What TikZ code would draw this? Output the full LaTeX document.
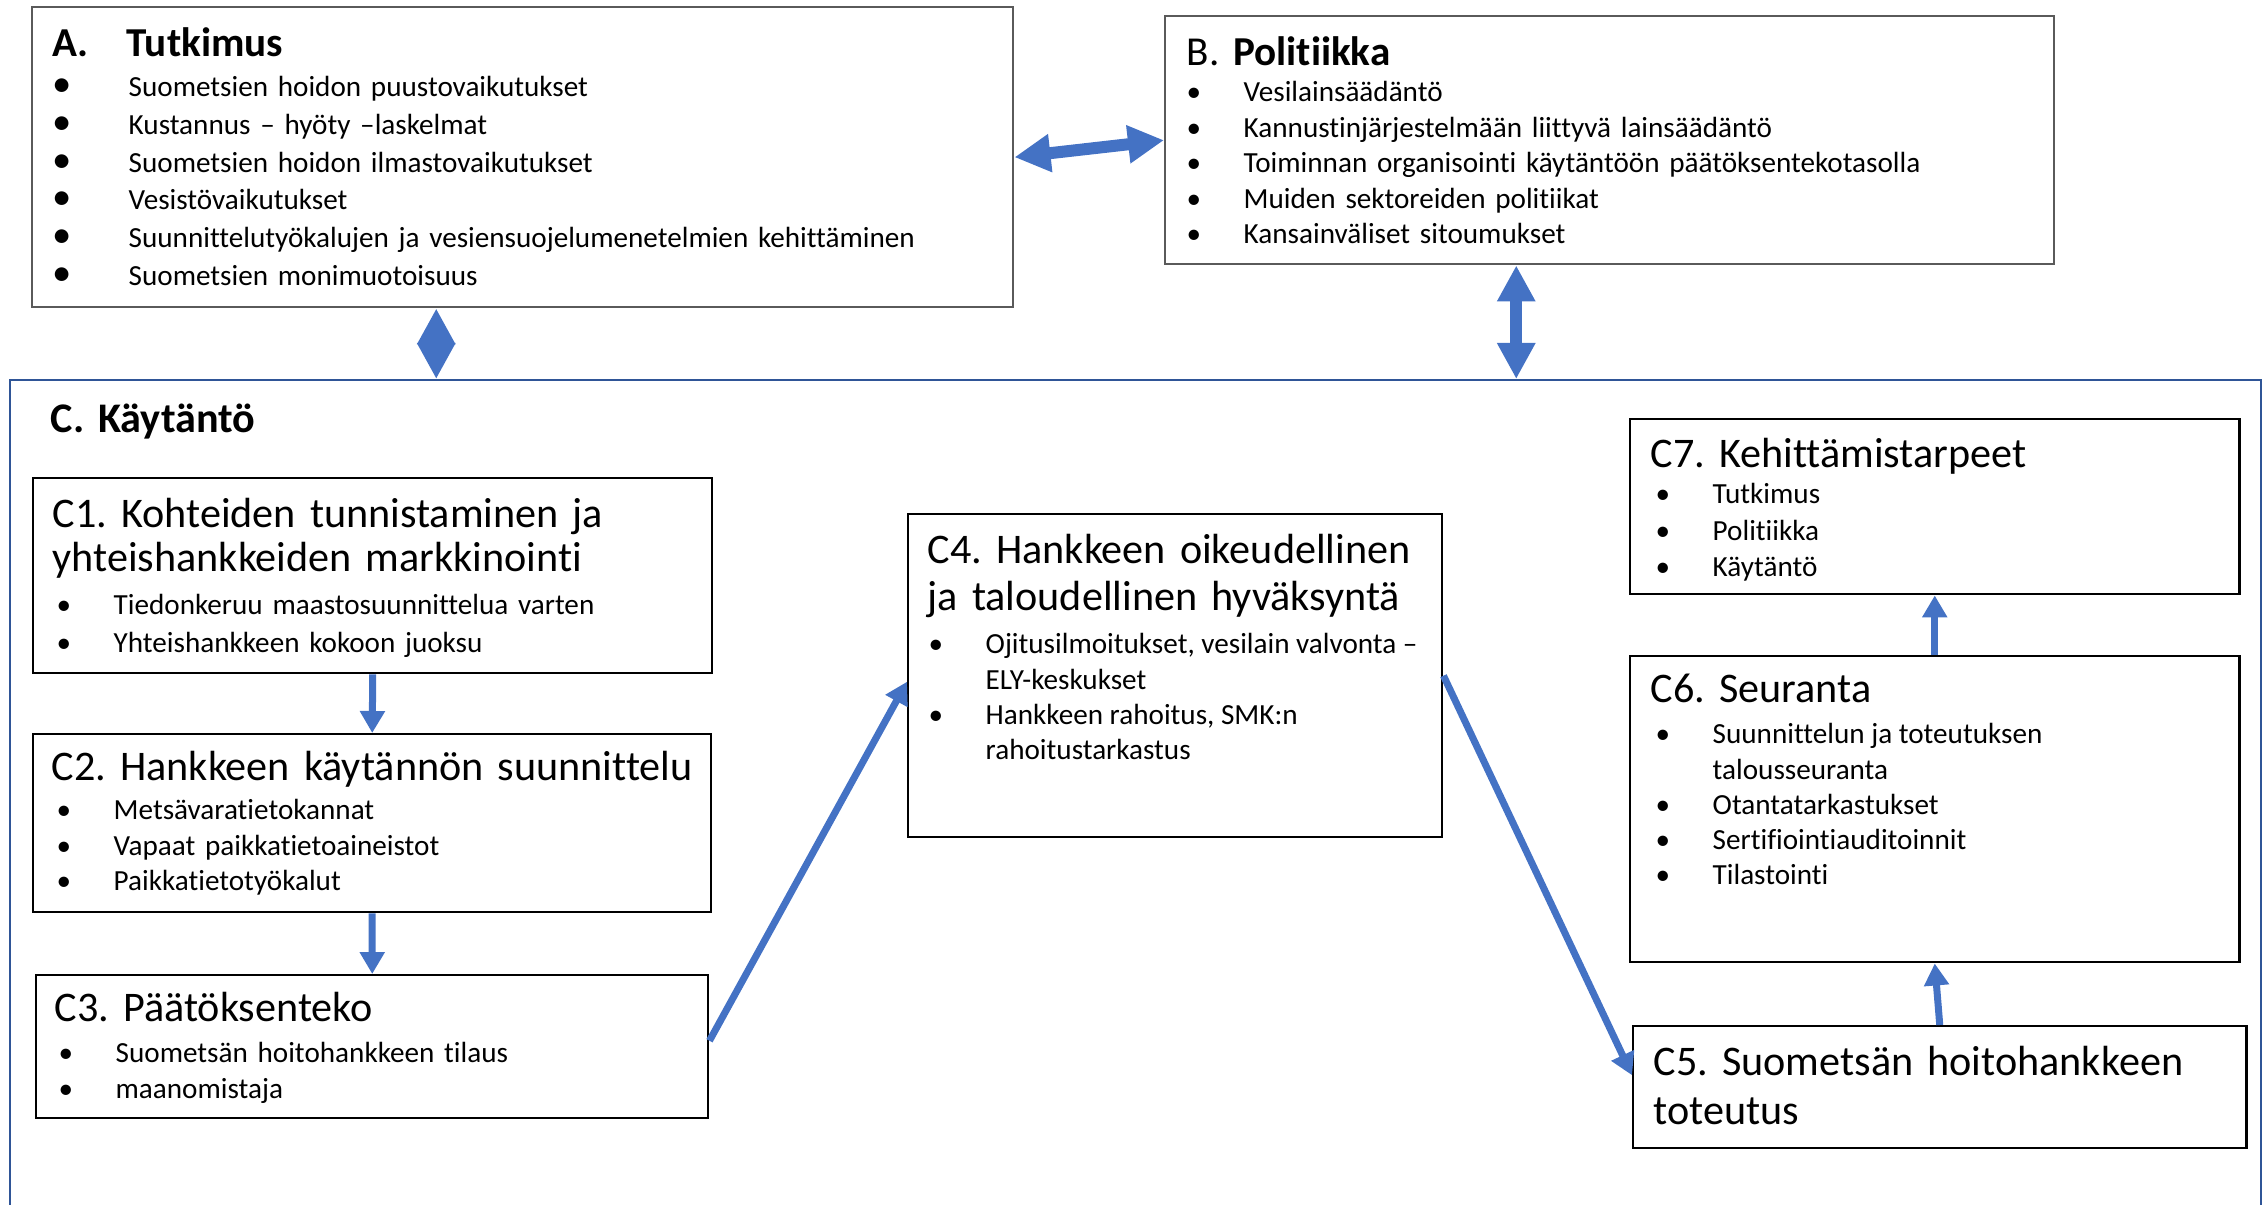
\documentclass[tikz,border=0pt]{standalone}
\usepackage{fontspec}
\setmainfont{Carlito}[Ligatures=NoCommon]
\usetikzlibrary{arrows.meta,calc}
\definecolor{arrowBlue}{HTML}{4472C4}
\definecolor{frameBlue}{HTML}{2F5597}
\definecolor{frameGray}{HTML}{5A5A5A}
\frenchspacing
\newcommand{\fitem}[1]{\makebox[0.57cm][l]{\textbullet}#1\par}
\newcommand{\aitem}[1]{\makebox[0.76cm][l]{\fontsize{11}{11}\selectfont\textbullet}#1\par}
\tikzset{
  arr/.style={-{Triangle[length=0.22cm,width=0.24cm]}, line width=0.07cm, arrowBlue},
  dblarr/.style={{Triangle[length=0.36cm,width=0.36cm]}-{Triangle[length=0.36cm,width=0.36cm]},
    line width=0.12cm, arrowBlue},
  box/.style={draw=black, line width=0.7pt, anchor=north west, inner sep=0pt},
  topbox/.style={box, draw=frameGray},
  head/.style={anchor=base west, inner sep=0pt, align=left, text width=#1,
    font=\fontsize{12}{12.3}\selectfont},
  items/.style={anchor=base west, inner sep=0pt, align=left, text width=#1,
    font=\fontsize{8.3}{10.1}\selectfont},
  rows/.style={anchor=base west, inner sep=0pt, font=\fontsize{8.3}{10}\selectfont}
}
\begin{document}
\begin{tikzpicture}[x=1cm,y=1cm]
  \useasboundingbox (0,0) rectangle (22.67,-12.05);
  % frames
  \node[box, draw=frameBlue, line width=0.55pt, minimum width=22.51cm, minimum height=9cm] (c) at (0.09,-3.79) {};
  \node[topbox, minimum width=9.81cm, minimum height=3.00cm] (a) at (0.31,-0.06) {};
  \node[topbox, minimum width=8.89cm, minimum height=2.48cm] (b) at (11.64,-0.15) {};
  \node[box, minimum width=6.79cm, minimum height=1.95cm] (c1) at (0.32,-4.77) {};
  \node[box, minimum width=6.78cm, minimum height=1.78cm] (c2) at (0.32,-7.33) {};
  \node[box, minimum width=6.72cm, minimum height=1.43cm] (c3) at (0.35,-9.74) {};
  \node[box, minimum width=5.34cm, minimum height=3.23cm] (c4) at (9.07,-5.13) {};
  \node[box, minimum width=6.13cm, minimum height=1.22cm] (c5) at (16.32,-10.25) {};
  \node[box, minimum width=6.09cm, minimum height=3.06cm] (c6) at (16.29,-6.55) {};
  \node[box, minimum width=6.09cm, minimum height=1.75cm] (c7) at (16.29,-4.18) {};

  % A. Tutkimus
  \node[head=9.4cm, font=\fontsize{11.7}{12}\selectfont\bfseries] (at) at (0.52,-0.57)
    {\makebox[0.74cm][l]{A.}Tutkimus};
  \node[items=9.4cm, font=\fontsize{8.3}{10.7}\selectfont] (al) at (0.52,-0.97) {%
    \aitem{Suometsien hoidon puustovaikutukset}
    \aitem{Kustannus – hyöty –laskelmat}
    \aitem{Suometsien hoidon ilmastovaikutukset}
    \aitem{Vesistövaikutukset}
    \aitem{Suunnittelutyökalujen ja vesiensuojelumenetelmien kehittäminen}
    \aitem{Suometsien monimuotoisuus}};

  % B. Politiikka
  \node[head=8.5cm, font=\fontsize{11.7}{12}\selectfont] (bt) at (11.86,-0.66) {B. \textbf{Politiikka}};
  \node[items=8.5cm] (bl) at (11.86,-1.02) {%
    \fitem{Vesilainsäädäntö}
    \fitem{Kannustinjärjestelmään liittyvä lainsäädäntö}
    \fitem{Toiminnan organisointi käytäntöön päätöksentekotasolla}
    \fitem{Muiden sektoreiden politiikat}
    \fitem{Kansainväliset sitoumukset}};

  % C. Kaytanto
  \node[head=4cm, font=\fontsize{12}{12}\selectfont\bfseries] (ct) at (0.50,-4.33) {C. Käytäntö};

  \node[head=6.5cm] (c1t) at (0.52,-5.28) {C1. Kohteiden tunnistaminen ja\\yhteishankkeiden markkinointi};
  \node[items=6.4cm, font=\fontsize{8.3}{10.7}\selectfont] (c1l) at (0.56,-6.15) {%
    \fitem{Tiedonkeruu maastosuunnittelua varten}
    \fitem{Yhteishankkeen kokoon juoksu}};

  \node[head=6.55cm] (c2t) at (0.51,-7.81) {C2. Hankkeen käytännön suunnittelu};
  \node[items=6.4cm] (c2l) at (0.56,-8.20) {%
    \fitem{Metsävaratietokannat}
    \fitem{Vapaat paikkatietoaineistot}
    \fitem{Paikkatietotyökalut}};

  \node[head=6.4cm] (c3t) at (0.54,-10.21) {C3. Päätöksenteko};
  \node[items=6.4cm, font=\fontsize{8.3}{10.25}\selectfont] (c3l) at (0.58,-10.62) {%
    \fitem{Suometsän hoitohankkeen tilaus}
    \fitem{maanomistaja}};

  \node[head=5.1cm, font=\fontsize{12}{13.1}\selectfont] (c4t) at (9.27,-5.64)
    {C4. Hankkeen oikeudellinen\\ja taloudellinen hyväksyntä};
  \node[rows] (c4l) at (9.28,-6.54) {%
    \begin{tabular}[t]{@{}p{0.57cm}@{}l@{}}
      \textbullet & Ojitusilmoitukset, vesilain valvonta –\\
                  & ELY-keskukset\\
      \textbullet & Hankkeen rahoitus, SMK:n\\
                  & rahoitustarkastus
    \end{tabular}};

  \node[head=5.8cm, font=\fontsize{12}{14}\selectfont] (c5t) at (16.53,-10.75)
    {C5. Suometsän hoitohankkeen\\toteutus};

  \node[head=5.7cm] (c6t) at (16.50,-7.03) {C6. Seuranta};
  \node[rows] (c6l) at (16.55,-7.44) {%
    \begin{tabular}[t]{@{}p{0.57cm}@{}l@{}}
      \textbullet & Suunnittelun ja toteutuksen\\
                  & talousseuranta\\
      \textbullet & Otantatarkastukset\\
      \textbullet & Sertifiointiauditoinnit\\
      \textbullet & Tilastointi
    \end{tabular}};

  \node[head=5.7cm] (c7t) at (16.50,-4.68) {C7. Kehittämistarpeet};
  \node[items=5.7cm, font=\fontsize{8.3}{10.3}\selectfont] (c7l) at (16.55,-5.04) {%
    \fitem{Tutkimus}
    \fitem{Politiikka}
    \fitem{Käytäntö}};

  % links
  \draw[dblarr] (a.east) -- (b.west);
  \draw[dblarr] ([xshift=-0.865cm]a.south) -- ([xshift=-0.865cm]a.south |- c.north);
  \draw[dblarr] ([xshift=-0.935cm]b.south) -- ([xshift=-0.935cm]b.south |- c.north);
  \foreach \s/\t in {c1/c2,c2/c3}
    \draw[arr] (\s.south) -- (\t.north);
  \foreach \s/\t in {c5/c6,c6/c7}
    \draw[arr] (\s.north) -- (\t.south);
  \draw[arr] ([yshift=0.06cm]c3.east) -- ([yshift=-0.06cm]c4.west);
  \draw[arr] (c4.east) -- ([yshift=0.12cm]c5.west);
\end{tikzpicture}
\end{document}
